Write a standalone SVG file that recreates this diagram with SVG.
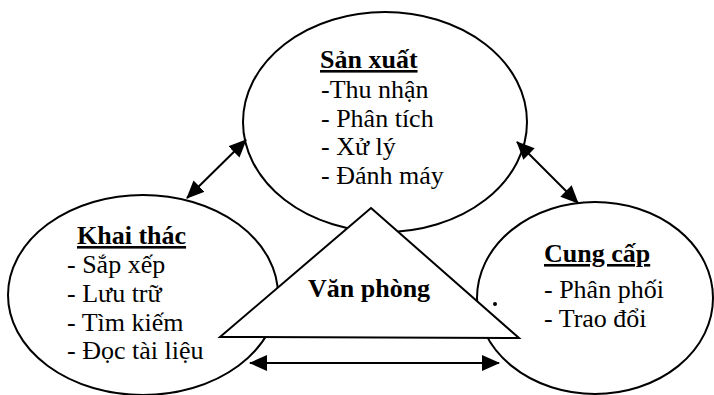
<svg xmlns="http://www.w3.org/2000/svg" width="714" height="395" viewBox="0 0 714 395">
<style>
.shape{fill:#fff;stroke:#000;stroke-width:2}
.t{font-family:"Liberation Serif","Times New Roman",serif;font-size:26px;fill:#000}
.h{font-weight:bold;text-decoration:underline}
.b{font-weight:bold}
.conn{stroke:#000;stroke-width:2;fill:none;marker-start:url(#ah);marker-end:url(#ah)}
</style>
<defs>
<marker id="ah" markerUnits="userSpaceOnUse" viewBox="0 0 18 16" refX="17" refY="8" markerWidth="18" markerHeight="16" orient="auto-start-reverse">
<path d="M0,0 L18,8 L0,16 Z" fill="#000"/>
</marker>
</defs>
<rect width="714" height="395" fill="#fff"/>
<g id="san-xuat">
<ellipse class="shape" cx="385" cy="122" rx="142" ry="110"/>
<text class="t h" x="320" y="68">Sản xuất</text>
<text class="t" x="321" y="98">-Thu nhận</text>
<text class="t" x="321" y="127">- Phân tích</text>
<text class="t" x="321" y="155">- Xử lý</text>
<text class="t" x="321" y="184">- Đánh máy</text>
</g>
<g id="khai-thac">
<ellipse class="shape" cx="143" cy="295" rx="135" ry="100"/>
<text class="t h" x="77" y="244">Khai thác</text>
<text class="t" x="67" y="273">- Sắp xếp</text>
<text class="t" x="67" y="302">- Lưu trữ</text>
<text class="t" x="67" y="331">- Tìm kiếm</text>
<text class="t" x="67" y="359">- Đọc tài liệu</text>
</g>
<g id="cung-cap">
<ellipse class="shape" cx="595" cy="298" rx="118" ry="96"/>
<text class="t h" x="544" y="262">Cung cấp</text>
<text class="t" x="544" y="298">- Phân phối</text>
<text class="t" x="544" y="327">- Trao đổi</text>
</g>
<g id="van-phong">
<polygon class="shape" points="371,208 519,338 220,337"/>
<text class="t b" x="308" y="297">Văn phòng</text>
<circle cx="495" cy="304" r="2" fill="#000"/>
</g>
<g id="connectors">
<line class="conn" x1="187" y1="198" x2="246" y2="140"/>
<line class="conn" x1="517" y1="142" x2="578" y2="203"/>
<line class="conn" x1="250" y1="363" x2="499" y2="363"/>
</g>
</svg>
